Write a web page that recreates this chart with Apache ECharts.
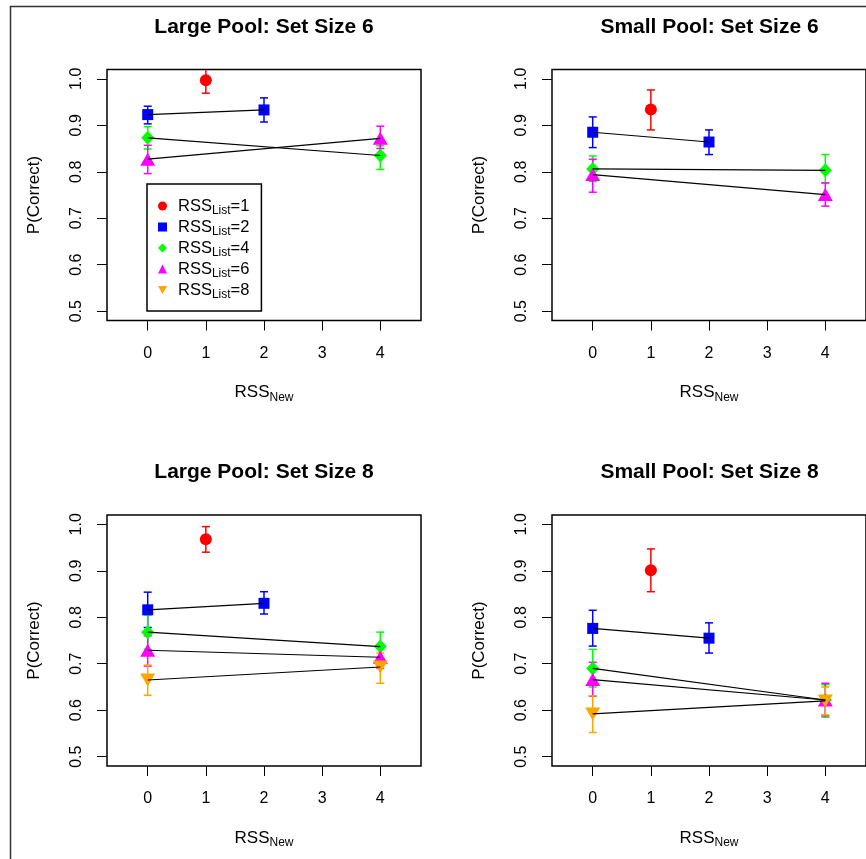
<!DOCTYPE html>
<html lang="en">
<head>
<meta charset="UTF-8">
<title>P(Correct) by RSS</title>
<script src="https://cdn.jsdelivr.net/npm/echarts@6/dist/echarts.min.js"></script>
<style>
  html, body { margin: 0; padding: 0; background: #fff; }
  #main { width: 866px; height: 859px; }
</style>
</head>
<body>
<div id="main"></div>
<script>
// axis ticks
const xTicks = [0, 1, 2, 3, 4];
const yTicks = [0.5, 0.6, 0.7, 0.8, 0.9, 1.0];
const listLevels = [1, 2, 4, 6, 8];
const panelTitles = ['Large Pool: Set Size 6', 'Small Pool: Set Size 6',
                     'Large Pool: Set Size 8', 'Small Pool: Set Size 8'];

// rows: [RSS_New, mean, lower, upper]
const large6_l1 = [[1, 0.997, 0.969, 1.025]];
const large6_l2 = [[0, 0.923, 0.903, 0.941], [2, 0.933, 0.907, 0.959]];
const large6_l4 = [[0, 0.873, 0.849, 0.897], [4, 0.835, 0.805, 0.856]];
const large6_l6 = [[0, 0.827, 0.796, 0.857], [4, 0.872, 0.850, 0.898]];

const small6_l1 = [[1, 0.934, 0.890, 0.976]];
const small6_l2 = [[0, 0.885, 0.852, 0.918], [2, 0.864, 0.837, 0.890]];
const small6_l4 = [[0, 0.806, 0.779, 0.834], [4, 0.803, 0.776, 0.837]];
const small6_l6 = [[0, 0.794, 0.756, 0.827], [4, 0.751, 0.726, 0.776]];

const large8_l1 = [[1, 0.968, 0.940, 0.995]];
const large8_l2 = [[0, 0.816, 0.778, 0.854], [2, 0.830, 0.807, 0.855]];
const large8_l4 = [[0, 0.768, 0.731, 0.805], [4, 0.737, 0.708, 0.768]];
const large8_l6 = [[0, 0.729, 0.695, 0.760], [4, 0.714, 0.690, 0.737]];
const large8_l8 = [[0, 0.665, 0.632, 0.697], [4, 0.693, 0.658, 0.723]];

const small8_l1 = [[1, 0.901, 0.855, 0.947]];
const small8_l2 = [[0, 0.776, 0.738, 0.815], [2, 0.755, 0.723, 0.788]];
const small8_l4 = [[0, 0.690, 0.650, 0.731], [4, 0.622, 0.585, 0.655]];
const small8_l6 = [[0, 0.666, 0.630, 0.703], [4, 0.622, 0.588, 0.658]];
const small8_l8 = [[0, 0.592, 0.552, 0.631], [4, 0.620, 0.590, 0.650]];

const panels = [
    [large6_l1, large6_l2, large6_l4, large6_l6],
    [small6_l1, small6_l2, small6_l4, small6_l6],
    [large8_l1, large8_l2, large8_l4, large8_l6, large8_l8],
    [small8_l1, small8_l2, small8_l4, small8_l6, small8_l8]
];

// look
const font = '"Liberation Sans", Arial, sans-serif';
const colors = ['#ff0000', '#0000ff', '#00ff00', '#ff00ff', '#ffa500'];
const symbols = ['circle', 'rect', 'diamond', 'triangle', 'path://M0,0L10,0L5,8.7Z'];
const sizes = [12, 11, [13, 14], [15, 13], [15, 13]];
const boxes = [
    {left: 107, top: 69.5, width: 314, height: 251},
    {left: 552, top: 69.5, width: 315, height: 251},
    {left: 107, top: 515, width: 314, height: 251},
    {left: 552, top: 515, width: 315, height: 251}
];
const listName = l => 'RSS_List=' + l;

function errorBar(params, api) {
    const x = api.value(0);
    const hi = api.coord([x, api.value(3)]);
    const lo = api.coord([x, api.value(2)]);
    const cs = params.coordSys;
    const style = {stroke: api.visual('color'), lineWidth: 1.5};
    const kids = [{
        type: 'line',
        shape: {x1: hi[0], y1: Math.max(hi[1], cs.y), x2: lo[0], y2: Math.min(lo[1], cs.y + cs.height)},
        style: style
    }];
    if (hi[1] >= cs.y) {
        kids.push({type: 'line', shape: {x1: hi[0] - 4, y1: hi[1], x2: hi[0] + 4, y2: hi[1]}, style: style});
    }
    if (lo[1] <= cs.y + cs.height) {
        kids.push({type: 'line', shape: {x1: lo[0] - 4, y1: lo[1], x2: lo[0] + 4, y2: lo[1]}, style: style});
    }
    return {type: 'group', children: kids};
}

const grid = [], xAxis = [], yAxis = [], title = [], series = [];

boxes.forEach(function (b, i) {
    grid.push(Object.assign({show: true, borderColor: '#000', borderWidth: 1.5}, b));
    title.push({
        text: panelTitles[i], left: b.left + b.width / 2, top: i < 2 ? 17 : 462,
        textAlign: 'center', padding: 0,
        textStyle: {fontFamily: font, fontSize: 21, fontWeight: 'bold', color: '#000'}
    });
    xAxis.push({
        gridIndex: i, type: 'value', min: -0.7, max: 4.7,
        splitLine: {show: false}, axisLine: {show: false, onZero: false},
        axisTick: {show: true, length: 10, customValues: xTicks, lineStyle: {color: '#000', width: 1}},
        axisLabel: {customValues: xTicks, margin: 25, fontSize: 16, color: '#000', fontFamily: font},
        name: '{a|RSS}{b|New}', nameLocation: 'middle', nameGap: 62,
        nameTextStyle: {
            rich: {
                a: {fontSize: 17, fontFamily: font, color: '#000', lineHeight: 20},
                b: {fontSize: 12, fontFamily: font, color: '#000', lineHeight: 10, padding: [10, 0, 0, 0]}
            }
        }
    });
    yAxis.push({
        gridIndex: i, type: 'value', min: 0.48, max: 1.02,
        splitLine: {show: false}, axisLine: {show: false, onZero: false},
        axisTick: {show: true, length: 10, customValues: yTicks, lineStyle: {color: '#000', width: 1}},
        axisLabel: {
            customValues: yTicks, rotate: 90, margin: 22, fontSize: 16, color: '#000', fontFamily: font,
            formatter: v => v.toFixed(1)
        },
        name: 'P(Correct)', nameLocation: 'middle', nameGap: 64,
        nameTextStyle: {fontSize: 17, color: '#000', fontFamily: font}
    });

    panels[i].forEach(function (rows, g) {
        series.push({
            type: 'custom', xAxisIndex: i, yAxisIndex: i, z: 2, silent: true,
            itemStyle: {color: colors[g]},
            encode: {x: 0, y: [1, 2, 3]},
            data: rows, renderItem: errorBar
        });
        series.push({
            type: 'scatter', name: listName(listLevels[g]), xAxisIndex: i, yAxisIndex: i, z: 3,
            symbol: symbols[g], symbolSize: sizes[g],
            itemStyle: {color: colors[g], opacity: 1},
            data: rows.map(r => [r[0], r[1]])
        });
        if (rows.length > 1) {
            series.push({
                type: 'line', xAxisIndex: i, yAxisIndex: i, z: 4, silent: true,
                symbol: 'none', lineStyle: {color: '#000', width: 1.2},
                data: rows.map(r => [r[0], r[1]])
            });
        }
    });
});

const legendRich = {
    p: {fontSize: 16.5, fontFamily: font, color: '#000', lineHeight: 18, padding: [0, 0, 0, 6]},
    a: {fontSize: 16.5, fontFamily: font, color: '#000', lineHeight: 18},
    b: {fontSize: 12, fontFamily: font, color: '#000', lineHeight: 10, padding: [10, 0, 0, 0]}
};

const chart = echarts.init(document.getElementById('main'));
chart.setOption({
    animation: false,
    backgroundColor: '#fff',
    title: title,
    grid: grid,
    xAxis: xAxis,
    yAxis: yAxis,
    legend: {
        orient: 'vertical', left: 147, top: 184,
        data: listLevels.map(listName),
        itemWidth: 9, itemHeight: 9, itemGap: -1,
        padding: [11, 12, 10, 11],
        borderColor: '#000', borderWidth: 1.5, backgroundColor: '#fff',
        selectedMode: false,
        formatter: name => '{p|RSS}{b|List}{a|=' + name.split('=')[1] + '}',
        textStyle: {rich: legendRich}
    },
    graphic: [{
        type: 'rect', silent: true, z: 100,
        shape: {x: 10.5, y: 6.5, width: 1000, height: 1000},
        style: {fill: 'none', stroke: '#333', lineWidth: 1.5}
    }],
    series: series
});
</script>
</body>
</html>
